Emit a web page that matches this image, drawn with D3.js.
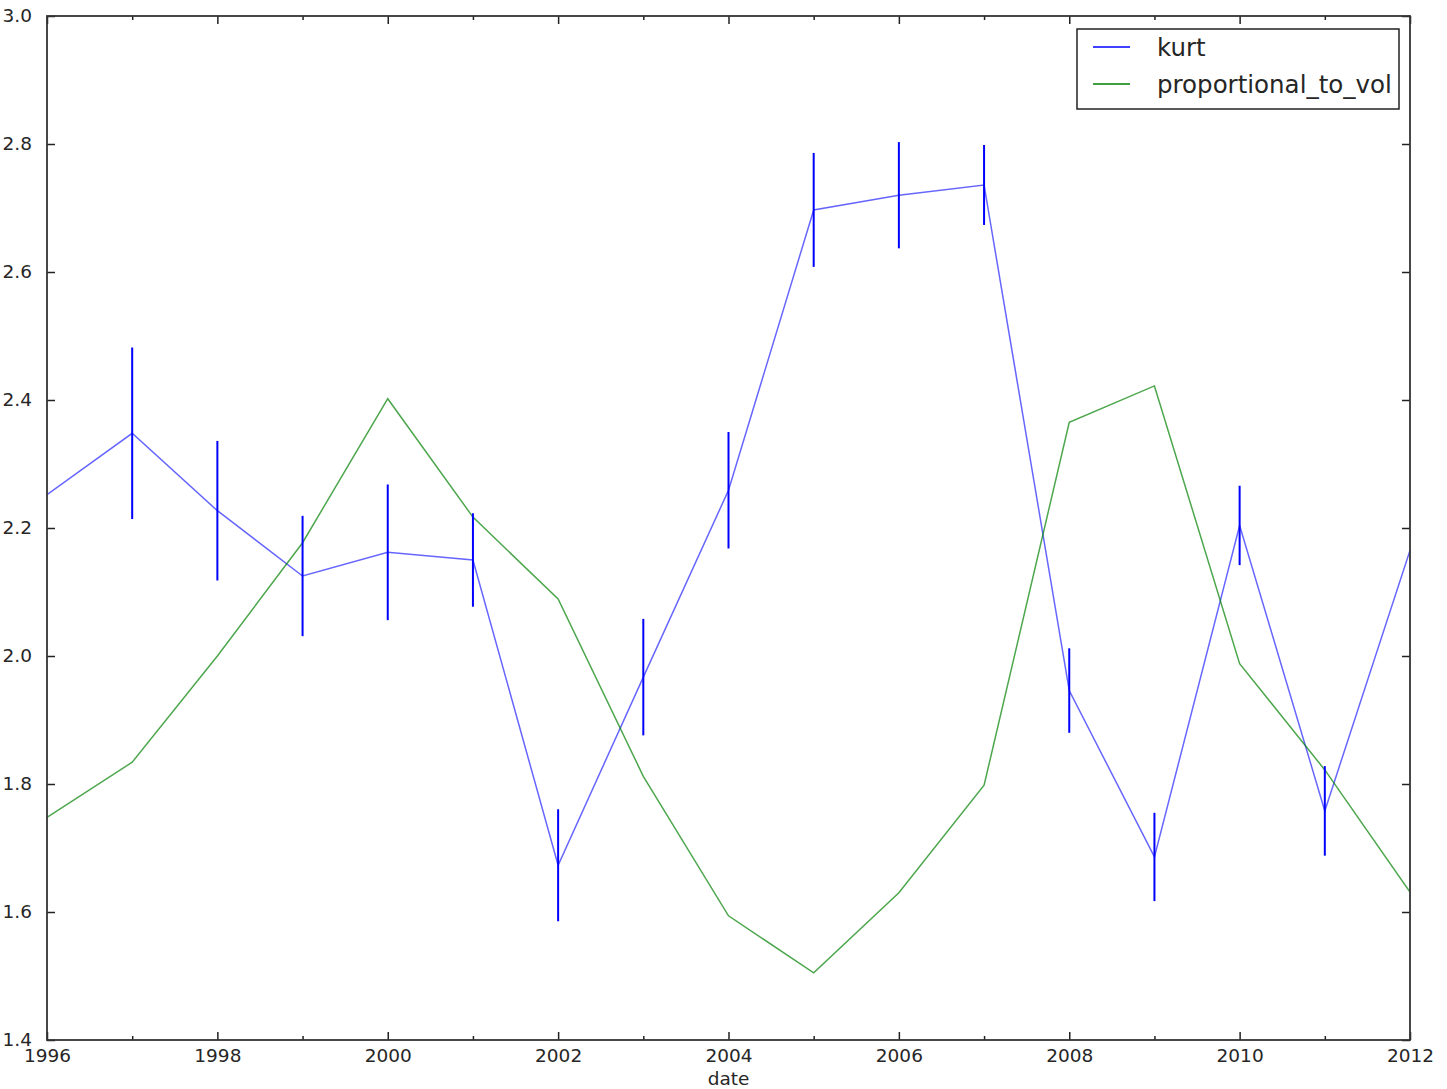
<!DOCTYPE html>
<html><head><meta charset="utf-8">
<script src="https://d3js.org/d3.v7.min.js"></script>
<style>
html,body{margin:0;padding:0;background:#fff;}
svg{display:block;}
text{font-family:"DejaVu Sans",sans-serif;fill:#262626;}
</style></head>
<body><svg id="c" width="1447" height="1089"></svg>
<script>
const years = [1996,1997,1998,1999,2000,2001,2002,2003,2004,2005,2006,2007,2008,2009,2010,2011,2012];
const kurt = [2.252,2.348,2.227,2.125,2.162,2.150,1.673,1.967,2.259,2.697,2.720,2.736,1.946,1.686,2.204,1.758,2.165];
const kurtErr = [null,0.134,0.109,0.094,0.106,0.073,0.0875,0.091,0.091,0.089,0.083,0.0625,0.066,0.069,0.062,0.070,null];
const propVol = [1.748,1.834,2.000,2.177,2.402,2.217,2.089,1.812,1.594,1.505,1.630,1.798,2.365,2.422,1.988,1.822,1.631];
const xMajorTicks = [1996,1998,2000,2002,2004,2006,2008,2010,2012];
const xMinorTicks = [1997,1999,2001,2003,2005,2007,2009,2011];
const yTicks = [1.4,1.6,1.8,2.0,2.2,2.4,2.6,2.8,3.0];
const seriesNames = ["kurt","proportional_to_vol"];

const svg = d3.select("#c");
const L=47, R=1410, T=16, B=1040;
const x = d3.scaleLinear().domain([1996,2012]).range([L,R]);
const y = d3.scaleLinear().domain([1.4,3.0]).range([B,T]);

svg.append("clipPath").attr("id","clip").append("rect")
  .attr("x",L).attr("y",T).attr("width",R-L).attr("height",B-T);

const plot = svg.append("g").attr("clip-path","url(#clip)");

const line = d3.line().x((d,i)=>x(years[i])).y(d=>y(d));

plot.append("path").datum(kurt).attr("d",line)
  .attr("fill","none").attr("stroke","#0000ff").attr("stroke-opacity",0.6).attr("stroke-width",1.5);

plot.append("path").datum(propVol).attr("d",line)
  .attr("fill","none").attr("stroke","#008000").attr("stroke-opacity",0.7).attr("stroke-width",1.5);

plot.selectAll("line.err").data(years.map((yr,i)=>({yr,v:kurt[i],e:kurtErr[i]})).filter(d=>d.e!=null))
  .enter().append("line").attr("class","err")
  .attr("x1",d=>x(d.yr)).attr("x2",d=>x(d.yr))
  .attr("y1",d=>y(d.v+d.e)).attr("y2",d=>y(d.v-d.e))
  .attr("stroke","#0000ff").attr("stroke-width",2);

// axes (ticks inward)
const tickColor="#222";
const gx = svg.append("g").attr("transform",`translate(0,${B})`)
  .call(d3.axisBottom(x).tickValues(xMajorTicks).tickFormat(d3.format("d")).tickSizeInner(-8).tickSizeOuter(0).tickPadding(9));
const gxMinor = svg.append("g").attr("transform",`translate(0,${B})`)
  .call(d3.axisBottom(x).tickValues(xMinorTicks).tickFormat("").tickSizeInner(-4).tickSizeOuter(0));
const gxTop = svg.append("g").attr("transform",`translate(0,${T})`)
  .call(d3.axisTop(x).tickValues(xMajorTicks).tickFormat("").tickSizeInner(-8).tickSizeOuter(0));
const gxTopMinor = svg.append("g").attr("transform",`translate(0,${T})`)
  .call(d3.axisTop(x).tickValues(xMinorTicks).tickFormat("").tickSizeInner(-4).tickSizeOuter(0));
const gy = svg.append("g").attr("transform",`translate(${L},0)`)
  .call(d3.axisLeft(y).tickValues(yTicks).tickFormat(d3.format(".1f")).tickSizeInner(-8).tickSizeOuter(0).tickPadding(15));
const gyR = svg.append("g").attr("transform",`translate(${R},0)`)
  .call(d3.axisRight(y).tickValues(yTicks).tickFormat("").tickSizeInner(-8).tickSizeOuter(0));

[gx,gxMinor,gxTop,gxTopMinor,gy,gyR].forEach(g=>{
  g.select(".domain").remove();
  g.selectAll(".tick line").attr("stroke",tickColor).attr("stroke-width",1.5);
  g.selectAll("text").style("font-family","DejaVu Sans").style("font-size","18.5px").attr("fill","#222");
});
gx.selectAll("text").attr("dy","0.71em");
gy.selectAll("text").attr("dy","0.32em");

// frame
svg.append("rect").attr("x",L).attr("y",T).attr("width",R-L).attr("height",B-T)
  .attr("fill","none").attr("stroke","#333").attr("stroke-width",1.8);

// x label
svg.append("text").attr("x",(L+R)/2).attr("y",1085).attr("text-anchor","middle")
  .style("font-size","18.5px").text("date");

// legend
const lg = svg.append("g");
lg.append("rect").attr("x",1077).attr("y",29).attr("width",322).attr("height",80)
  .attr("fill","#fff").attr("stroke","#222").attr("stroke-width",1.5);
const legColors=[["#0000ff",0.75],["#008000",0.75]];
seriesNames.forEach((n,i)=>{
  const yy = 47 + i*37;
  lg.append("line").attr("x1",1093).attr("x2",1130).attr("y1",yy).attr("y2",yy)
    .attr("stroke",legColors[i][0]).attr("stroke-opacity",legColors[i][1]).attr("stroke-width",1.8);
  lg.append("text").attr("x",1157).attr("y",yy).attr("dy","0.35em")
    .style("font-size","24.5px").text(n);
});
</script></body></html>
